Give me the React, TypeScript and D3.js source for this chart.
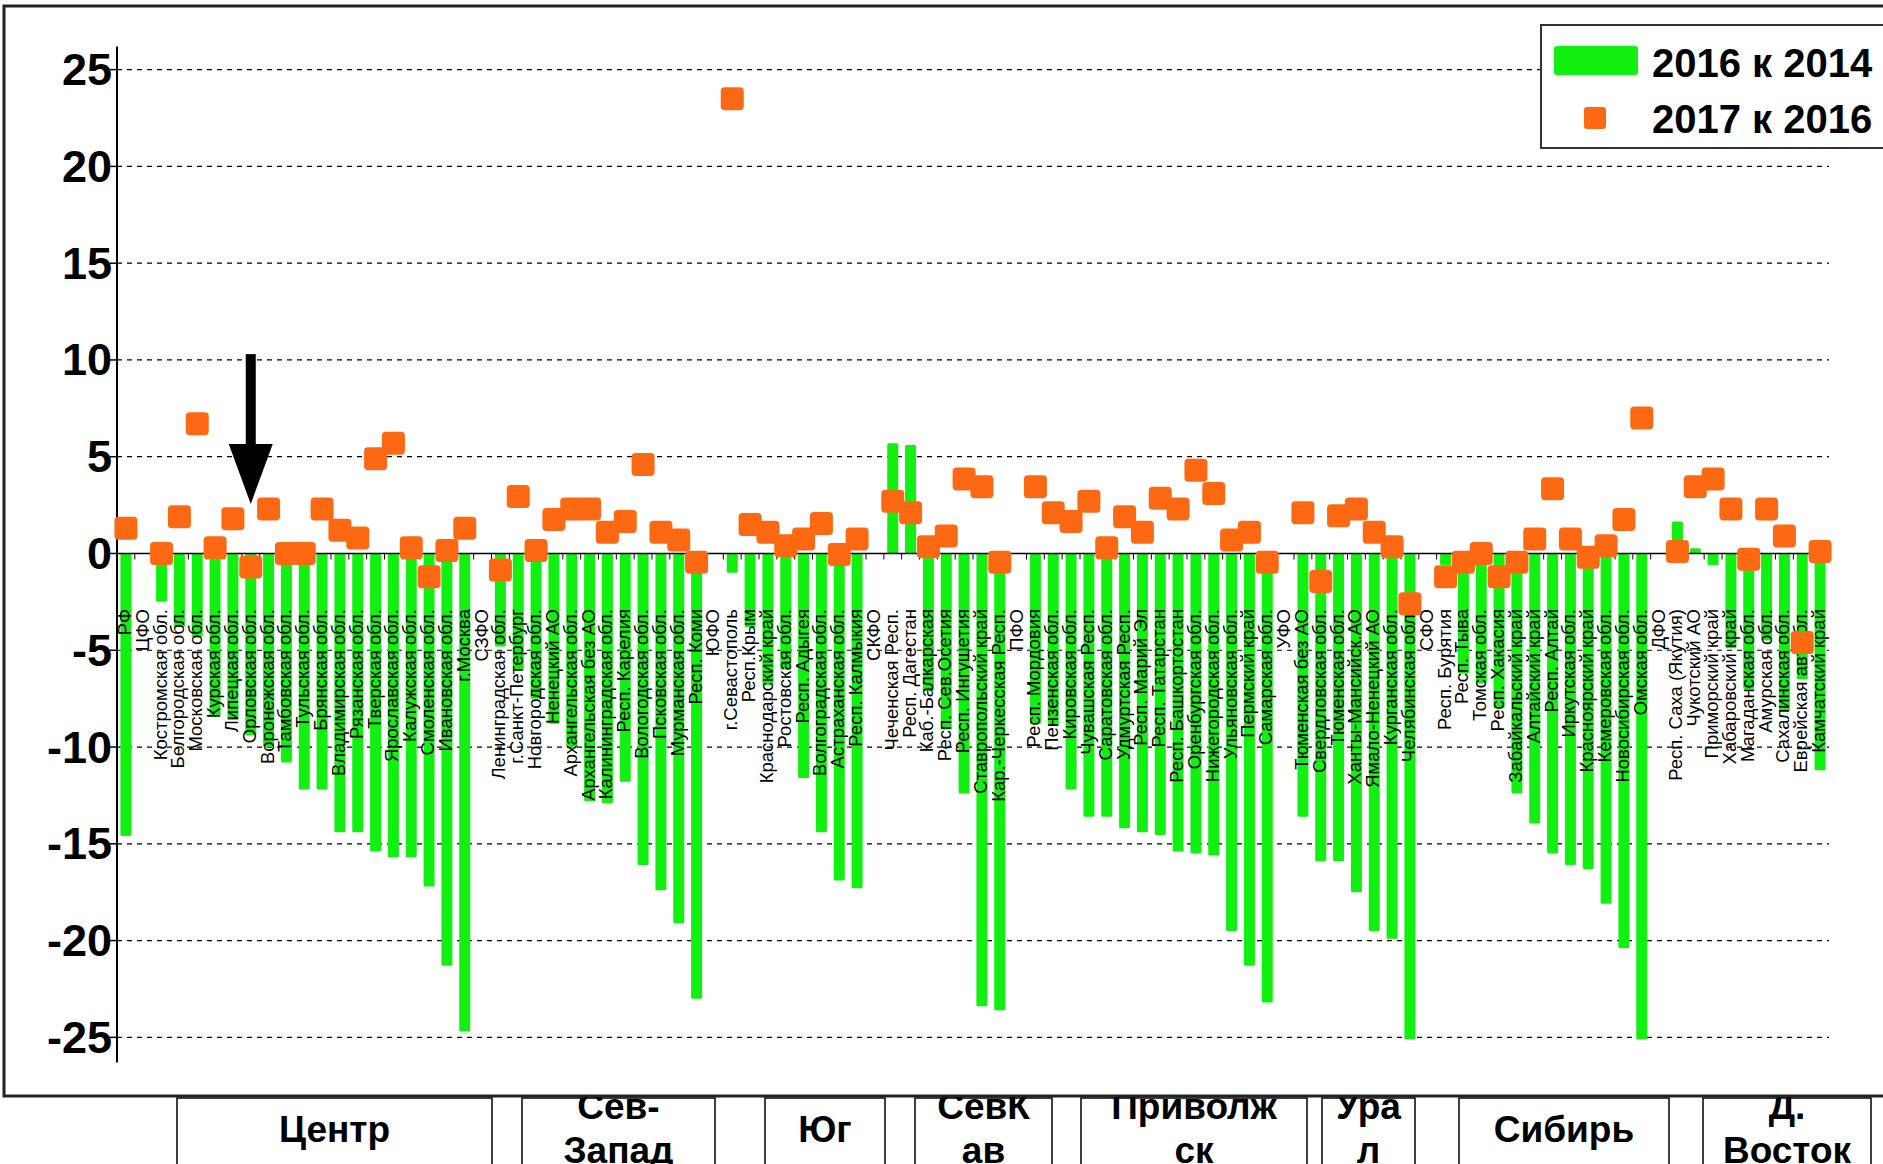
import * as d3 from "d3";

const W = 1883;
const H = 1164;

// categories along the x axis (district rows have no data)
const categories = [
  "РФ", "ЦФО", "Костромская обл.", "Белгородская обл.", "Московская обл.", "Курская обл.",
  "Липецкая обл.", "Орловская обл.", "Воронежская обл.", "Тамбовская обл.", "Тульская обл.",
  "Брянская обл.", "Владимирская обл.", "Рязанская обл.", "Тверская обл.", "Ярославская обл.",
  "Калужская обл.", "Смоленская обл.", "Ивановская обл.", "г.Москва",
  "СЗФО", "Ленинградская обл.", "г.Санкт-Петербург", "Новгородская обл.", "Ненецкий АО",
  "Архангельская обл.", "Архангельская без АО", "Калининградская обл.", "Респ. Карелия",
  "Вологодская обл.", "Псковская обл.", "Мурманская обл.", "Респ. Коми",
  "ЮФО", "г.Севастополь", "Респ.Крым", "Краснодарский край", "Ростовская обл.", "Респ. Адыгея",
  "Волгоградская обл.", "Астраханская обл.", "Респ. Калмыкия",
  "СКФО", "Чеченская Респ.", "Респ. Дагестан", "Каб.-Балкарская", "Респ. Сев.Осетия",
  "Респ. Ингушетия", "Ставропольский край", "Кар.-Черкесская Респ.",
  "ПФО", "Респ. Мордовия", "Пензенская обл.", "Кировская обл.", "Чувашская Респ.",
  "Саратовская обл.", "Удмуртская Респ.", "Респ. Марий Эл", "Респ. Татарстан",
  "Респ. Башкортостан", "Оренбургская обл.", "Нижегородская обл.", "Ульяновская обл.",
  "Пермский край", "Самарская обл.",
  "УФО", "Тюменская без АО", "Свердловская обл.", "Тюменская обл.", "Ханты-Мансийск.АО",
  "Ямало-Ненецкий АО", "Курганская обл.", "Челябинская обл.",
  "СФО", "Респ. Бурятия", "Респ. Тыва", "Томская обл.", "Респ. Хакасия", "Забайкальский край",
  "Алтайский край", "Респ. Алтай", "Иркутская обл.", "Красноярский край", "Кемеровская обл.",
  "Новосибирская обл.", "Омская обл.",
  "ДФО", "Респ. Саха (Якутия)", "Чукотский АО", "Приморский край", "Хабаровский край",
  "Магаданская обл.", "Амурская обл.", "Сахалинская обл.", "Еврейская авт.обл.", "Камчатский край",
];

// "2016 к 2014" (green bars)
const change2016to2014: (number | null)[] = [
  -14.6, null, -2.5, -3.8, -4.3, -8.4, -8.6, -9.4, -10.0, -10.8, -12.2, -12.2, -14.4, -14.4,
  -15.4, -15.7, -15.7, -17.2, -21.3, -24.7,
  null, -4.8, -6.0, -7.5, -8.8, -10.0, -12.8, -12.9, -11.8, -16.1, -17.4, -19.1, -23.0,
  null, -1.0, -3.8, -6.8, -6.0, -11.6, -14.4, -16.9, -17.3,
  null, 5.7, 5.6, -7.1, -9.1, -12.4, -23.4, -23.6,
  null, -8.8, -8.9, -12.2, -13.6, -13.6, -14.2, -14.4, -14.55, -15.4, -15.5, -15.6, -19.5,
  -21.3, -23.2,
  null, -13.6, -15.9, -15.9, -17.5, -19.5, -19.9, -25.1,
  null, -0.6, -6.2, -6.7, -8.0, -12.4, -13.95, -15.5, -16.1, -16.3, -18.1, -20.4, -25.1,
  null, 1.65, 0.27, -0.6, -4.9, -7.0, -4.5, -8.1, -6.5, -11.2,
];

// "2017 к 2016" (orange markers)
const change2017to2016: (number | null)[] = [
  1.3, null, 0.0, 1.9, 6.7, 0.3, 1.8, -0.7, 2.3, 0.0, 0.0, 2.3, 1.2, 0.8, 4.9, 5.7, 0.3, -1.2,
  0.15, 1.3,
  null, -0.85, 2.95, 0.15, 1.75, 2.3, 2.3, 1.1, 1.65, 4.6, 1.1, 0.7, -0.45,
  null, 23.5, 1.5, 1.1, 0.4, 0.75, 1.55, -0.05, 0.75,
  null, 2.7, 2.1, 0.35, 0.9, 3.85, 3.45, -0.45,
  null, 3.45, 2.1, 1.65, 2.7, 0.3, 1.9, 1.1, 2.85, 2.3, 4.3, 3.1, 0.7, 1.1, -0.45,
  null, 2.1, -1.45, 1.95, 2.3, 1.1, 0.35, -2.6,
  null, -1.2, -0.45, 0.0, -1.2, -0.45, 0.75, 3.35, 0.75, -0.2, 0.4, 1.75, 7.0,
  null, 0.1, 3.45, 3.85, 2.3, -0.3, 2.3, 0.9, -4.6, 0.1,
];

const yTicks = [25, 20, 15, 10, 5, 0, -5, -10, -15, -20, -25];

const seriesNames = ["2016 к 2014", "2017 к 2016"];

// federal district boxes under the chart
const regionLabels = [
  ["Центр"], ["Сев-", "Запад"], ["Юг"], ["СевК", "ав"], ["Приволж", "ск"], ["Ура", "л"],
  ["Сибирь"], ["Д.", "Восток"],
];
const regionEdges = [
  [177, 492], [522, 715], [765, 885], [915, 1052], [1081, 1307], [1322, 1415], [1459, 1669],
  [1703, 1871],
];

const GREEN = "#12f012";
const ORANGE = "#fd6912";
const BOLD = "'Liberation Sans', Arial, sans-serif";

const App = () => {
  const xScale = d3.scaleBand().domain(categories).range([117, 1829]);
  const yScale = d3.scaleLinear().domain([-26.3, 26.2]).range([1062.5, 46.4]);
  const step = xScale.bandwidth();
  const cx = (c: string) => (xScale(c) ?? 0) + step / 2;
  const barW = 11;
  const y0 = yScale(0);
  const labelTop = 609;
  const arrowX = cx("Орловская обл.");

  return (
    <svg
      width={W}
      height={H}
      style={{ position: "absolute", left: 0, top: 0, background: "#fff" }}
    >
      {/* district boxes */}
      {regionEdges.map(([x0, x1], i) => {
        const lines = regionLabels[i];
        const mid = (x0 + x1) / 2;
        return (
          <g key={i}>
            <rect x={x0} y={1098} width={x1 - x0} height={80} fill="#fff" stroke="#000" strokeWidth={1.5} />
            {lines.map((t, j) => (
              <text
                key={j}
                x={mid}
                y={lines.length === 1 ? 1129 : j === 0 ? 1106 : 1150}
                textAnchor="middle"
                dominantBaseline="central"
                fontFamily={BOLD}
                fontWeight="bold"
                fontSize={37}
              >
                {t}
              </text>
            ))}
          </g>
        );
      })}

      {/* chart frame */}
      <rect x={4} y={6} width={1920} height={1090} fill="#fff" stroke="#222" strokeWidth={3} />

      {/* grid */}
      {yTicks.filter((t) => t !== 0).map((t) => (
        <line
          key={t}
          x1={117}
          x2={1829}
          y1={yScale(t)}
          y2={yScale(t)}
          stroke="#000"
          strokeWidth={1.2}
          strokeDasharray="5,5"
        />
      ))}

      {/* y axis */}
      <line x1={117} x2={117} y1={yScale(26.2)} y2={yScale(-26.3)} stroke="#000" strokeWidth={2} />
      {yTicks.map((t) => (
        <g key={t}>
          <line x1={110} x2={117} y1={yScale(t)} y2={yScale(t)} stroke="#000" strokeWidth={1.5} />
          <text
            x={112}
            y={yScale(t)}
            textAnchor="end"
            dominantBaseline="central"
            fontFamily={BOLD}
            fontWeight="bold"
            fontSize={45}
          >
            {t}
          </text>
        </g>
      ))}

      {/* bars */}
      {categories.map((c, i) => {
        const v = change2016to2014[i];
        if (v === null) return null;
        const yv = yScale(v);
        return (
          <rect
            key={c}
            x={cx(c) - barW / 2}
            y={Math.min(yv, y0)}
            width={barW}
            height={Math.abs(yv - y0)}
            fill={GREEN}
            rx={1.5}
          />
        );
      })}

      {/* zero line */}
      <line x1={117} x2={1829} y1={y0} y2={y0} stroke="#000" strokeWidth={1.5} />
      {categories.map((c) => (
        <line
          key={c}
          x1={xScale(c)}
          x2={xScale(c)}
          y1={y0}
          y2={y0 + 6}
          stroke="#000"
          strokeWidth={1}
        />
      ))}

      {/* category labels */}
      {categories.map((c) => (
        <text
          key={c}
          transform={`translate(${cx(c) + 5},${labelTop}) rotate(-90)`}
          textAnchor="end"
          fontFamily="'Liberation Sans', Arial, sans-serif"
          fontSize={18.5}
          fill="#000"
        >
          {c}
        </text>
      ))}

      {/* markers */}
      {categories.map((c, i) => {
        const v = change2017to2016[i];
        if (v === null) return null;
        return (
          <rect
            key={c}
            x={cx(c) - 11.5}
            y={yScale(v) - 11.5}
            width={23}
            height={23}
            rx={4}
            fill={ORANGE}
          />
        );
      })}

      {/* arrow */}
      <rect x={arrowX - 5} y={yScale(10.3)} width={10} height={yScale(5.6) - yScale(10.3)} fill="#000" />
      <polygon
        points={`${arrowX - 22},${yScale(5.66)} ${arrowX + 22},${yScale(5.66)} ${arrowX},${yScale(2.56)}`}
        fill="#000"
      />

      {/* legend */}
      <rect x={1541} y={25} width={400} height={123} fill="#fff" stroke="#333" strokeWidth={2} />
      <rect x={1554} y={46} width={84} height={29} rx={3} fill={GREEN} />
      <rect x={1584} y={107} width={22} height={22} rx={3} fill={ORANGE} />
      {seriesNames.map((s, i) => (
        <text
          key={s}
          x={1652}
          y={i === 0 ? 77 : 133}
          fontFamily={BOLD}
          fontWeight="bold"
          fontSize={40}
        >
          {s}
        </text>
      ))}
    </svg>
  );
};

export default App;
